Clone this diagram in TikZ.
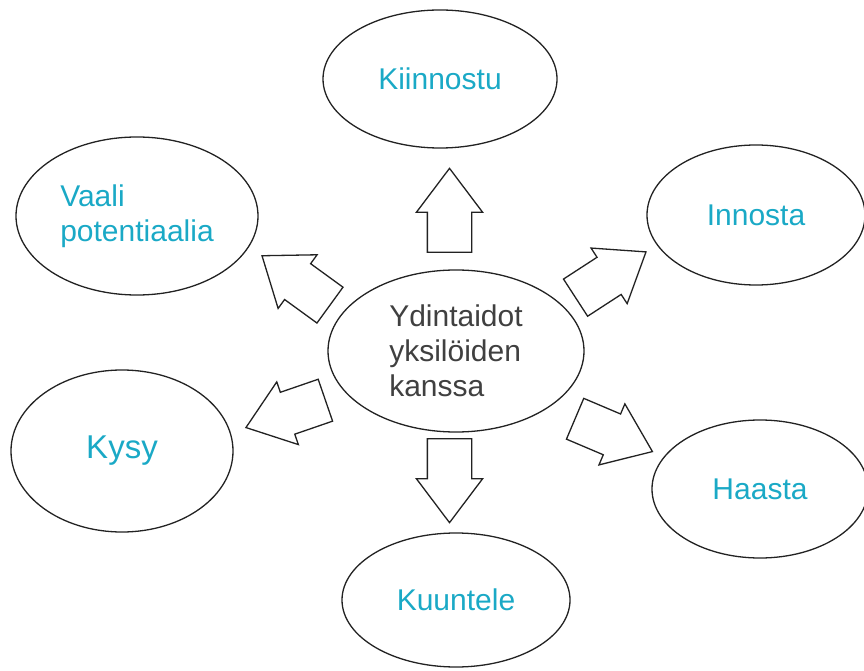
\documentclass[tikz,border=0pt]{standalone}
\usepackage{fontspec}
\setmainfont{Liberation Sans}
\usetikzlibrary{shapes.geometric,shapes.arrows}
\definecolor{inkline}{HTML}{222222}
\definecolor{inkgray}{HTML}{404040}
\definecolor{skill}{HTML}{1AA9C6}

\begin{document}
\begin{tikzpicture}[x=1pt, y=1pt,
      bubble/.style={ellipse, draw=inkline, line width=1.3pt, inner sep=0pt,
                     font=\fontsize{30}{35}\selectfont, text=skill, align=center},
      blockarrow/.style={single arrow, draw=inkline, line width=1.3pt, fill=white,
                         inner xsep=0pt, inner ysep=21.5pt, minimum width=65pt,
                         single arrow head extend=11pt, single arrow tip angle=74,
                         minimum height=84pt, anchor=tail},
    ]
      \useasboundingbox (0,0) rectangle (864,670);
      % core skill in the middle
      \node[bubble, text=inkgray, align=left, minimum width=256pt, minimum height=162pt]
            (core) at (456,319) {Ydintaidot\\yksilöiden\\kanssa};
      % surrounding skills
      \node[bubble, minimum width=234pt, minimum height=138pt] (kiinnostu) at (440,591) {Kiinnostu};
      \node[bubble, align=left, minimum width=242pt, minimum height=158pt] (vaali) at (137,454) {Vaali\\potentiaalia};
      \node[bubble, minimum width=218pt, minimum height=140pt] (innosta) at (756,455) {Innosta};
      \node[bubble, minimum width=216pt, minimum height=138pt] (haasta) at (760,181) {Haasta};
      \node[bubble, font=\fontsize{33}{38}\selectfont, minimum width=222pt, minimum height=162pt] (kysy) at (122,219) {Kysy};
      \node[bubble, minimum width=228pt, minimum height=134pt] (kuuntele) at (456,70) {Kuuntele};
      % block arrows out of the core
      \node[blockarrow, rotate=90] (tokiinnostu) at (449.5,417) {};
      \node[blockarrow, rotate=144] (tovaali) at (330.5,364.5) {};
      \node[blockarrow, rotate=33] (toinnosta) at (575,372) {};
      \node[blockarrow, rotate=199] (tokysy) at (326,270) {};
      \node[blockarrow, rotate=-23] (tohaasta) at (574.5,251.5) {};
      \node[blockarrow, rotate=-90] (tokuuntele) at (449.5,232) {};
    \end{tikzpicture}
\end{document}
